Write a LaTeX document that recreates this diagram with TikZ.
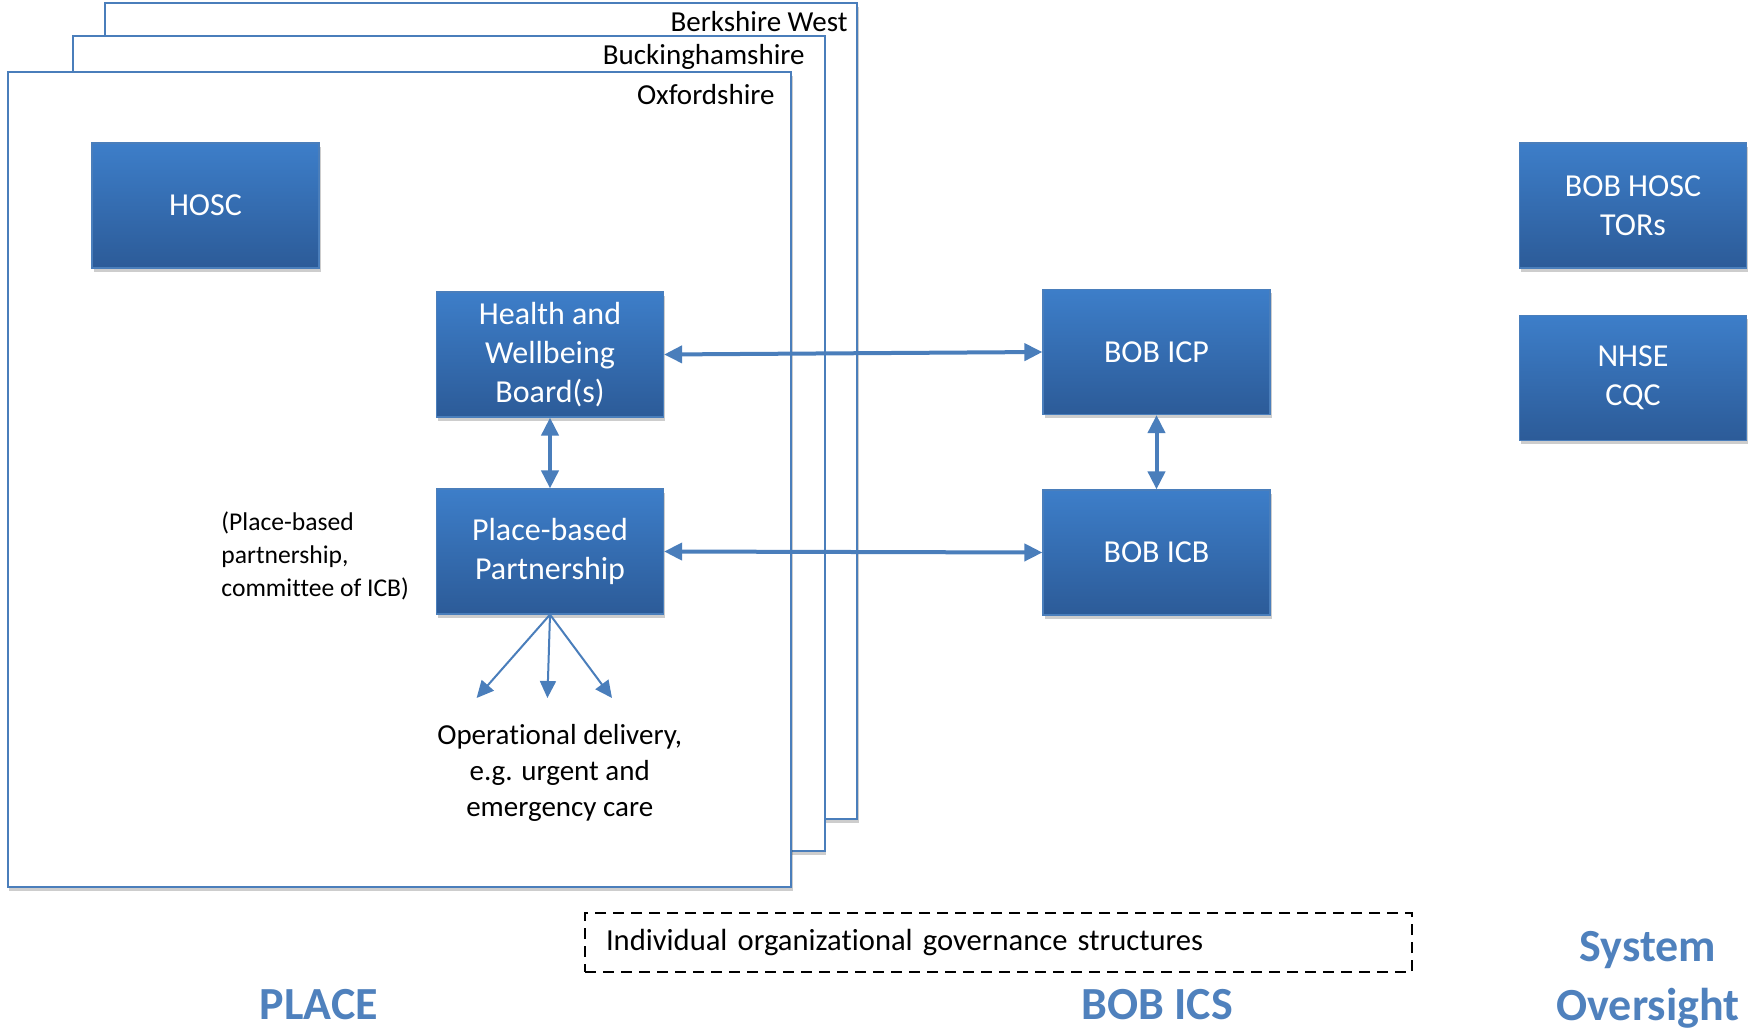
\documentclass[tikz,border=0pt]{standalone}
\usepackage{fontspec}
\setmainfont{Carlito}[Ligatures=NoCommon]
\usetikzlibrary{arrows.meta,shadows}
\definecolor{boxtop}{RGB}{61,126,201}
\definecolor{boxmid}{RGB}{53,110,180}
\definecolor{boxbot}{RGB}{44,91,152}
\definecolor{boxline}{RGB}{74,126,187}
\definecolor{arrowc}{RGB}{74,126,187}
\definecolor{labelc}{RGB}{79,129,189}
\tikzset{
  softshadow/.style={drop shadow={shadow xshift=0.8pt,shadow yshift=-1.8pt,opacity=0.28,fill=black!70}},
  box/.style={rectangle, draw=boxline, line width=0.6pt, top color=boxtop, middle color=boxmid, bottom color=boxbot,
    minimum width=113.5pt, minimum height=62.5pt, inner sep=0pt, text=white,
    font=\fontsize{16}{19.5}\selectfont, align=center, softshadow},
  frame/.style={draw=boxline, line width=1pt, fill=white, softshadow},
  framelab/.style={anchor=base east, inner sep=0pt, font=\fontsize{14.5}{18}\selectfont},
  biarrow/.style={draw=arrowc, line width=2pt, {Triangle[length=9pt,width=8.5pt]}-{Triangle[length=9pt,width=8.5pt]}},
  fanarrow/.style={draw=arrowc, line width=1pt, -{Triangle[length=8.5pt,width=8pt]}},
  regionlab/.style={anchor=base, inner sep=0pt, text=labelc, font=\bfseries\fontsize{23}{28}\selectfont}
}
\begin{document}
\begin{tikzpicture}[x=0.5pt,y=-0.5pt]
\useasboundingbox (0,0) rectangle (1748,1027);
% stacked frames
\draw[frame] (105,3.5) rectangle (857,819);
\node[framelab] (lbw) at (848,31.7) {Berkshire West};
\draw[frame] (72.5,36) rectangle (824.5,851);
\node[framelab] (lbk) at (805,65) {Buckinghamshire};
\draw[frame] (7.5,72) rectangle (791,887);
\node[framelab] (lox) at (775,105) {Oxfordshire};
% boxes
\node[box] (hosc) at (205.5,205.5) {HOSC};
\node[box] (hwb) at (550,354.5) {Health and\\Wellbeing\\Board(s)};
\node[box] (pbp) at (550,551.5) {Place-based\\Partnership};
\node[box] (icp) at (1156.5,352) {BOB ICP};
\node[box] (icb) at (1156.5,552.5) {BOB ICB};
\node[box] (bhosc) at (1633,205.5) {BOB HOSC\\TORs};
\node[box] (nhse) at (1633,378) {NHSE\\CQC};
% connectors
\draw[biarrow] (hwb.east) -- (icp.west);
\draw[biarrow] (pbp.east) -- (icb.west);
\draw[biarrow] (hwb.south) -- (pbp.north);
\draw[biarrow] (icp.south) -- (icb.north);
\coordinate (f1) at (476.6,698);
\coordinate (f2) at (547.4,698);
\coordinate (f3) at (612,698);
\draw[fanarrow] (pbp.south) -- (f1);
\draw[fanarrow] (pbp.south) -- (f2);
\draw[fanarrow] (pbp.south) -- (f3);
% labels
\node[anchor=west, inner sep=0pt, align=left, font=\fontsize{12.8}{16.5}\selectfont] (pbnote) at (221,556) {(Place-based\\partnership,\\committee of ICB)};
\node[inner sep=0pt, align=center, font=\fontsize{14.5}{18}\selectfont] (opdel) at (559.7,773) {Operational delivery,\\e.g. urgent and\\emergency care};
\node[draw=black, dashed, dash pattern=on 5.5pt off 3.5pt, line width=0.75pt, minimum width=413.5pt, minimum height=29.5pt,
  inner xsep=10.5pt, inner ysep=0pt, text width=392.5pt, align=left, font=\fontsize{15.3}{18}\selectfont] (indiv) at (998.5,942.5) {Individual organizational governance structures};
\node[regionlab] (place) at (319,1019) {PLACE};
\node[regionlab] (ics) at (1157,1019) {BOB ICS};
\node[regionlab] (sys) at (1648,961) {System};
\node[regionlab] (over) at (1648,1020) {Oversight};
\end{tikzpicture}
\end{document}
